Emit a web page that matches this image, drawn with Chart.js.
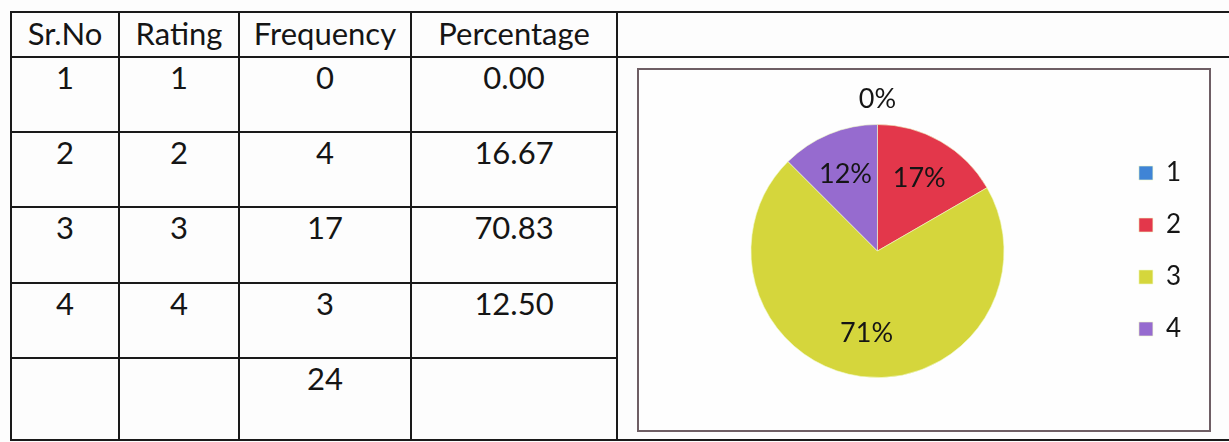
<!DOCTYPE html>
<html>
<head>
<meta charset="utf-8">
<script src="https://cdn.jsdelivr.net/npm/chart.js@4.4.1/dist/chart.umd.min.js"></script>
<style>
  html, body { margin: 0; padding: 0; background: #fdfdfd; width: 1229px; height: 442px; overflow: hidden; }
  body { position: relative; font-family: Lato, "Open Sans", sans-serif; color: #151515; }
  .hl, .vl { position: absolute; background: #1a1a1a; }
  .cell { position: absolute; text-align: center; font-size: 31px; line-height: 36px; white-space: nowrap; }
  #box { position: absolute; left: 637px; top: 68px; width: 570px; height: 360px; border: 2px solid #6e5e64; background: #fefefe; }
  #wrap { position: absolute; left: 600px; top: 69px; width: 608px; height: 361px; }
</style>
</head>
<body>
<div id="grid"></div>
<div id="box"></div>
<div id="wrap"><canvas id="c" width="608" height="361"></canvas></div>
<script>
const headers = ["Sr.No", "Rating", "Frequency", "Percentage"];
const srNo = ["1", "2", "3", "4"];
const ratings = ["1", "2", "3", "4"];
const frequencies = [0, 4, 17, 3];
const percentages = ["0.00", "16.67", "70.83", "12.50"];
const totalFrequency = "24";
const pieLabels = ["1", "2", "3", "4"];
const pieLabelTexts = ["0%", "17%", "71%", "12%"];
const pieColors = ["#3f84d6", "#e3374b", "#d5d63c", "#966bcf"];

// ---- table grid (layout) ----
const colX = [10, 118, 238, 410, 616];
const rowY = [11, 56, 131, 206, 282, 357, 439];
const grid = document.getElementById('grid');
function line(cls, l, t, w, h) { const d = document.createElement('div'); d.className = cls; Object.assign(d.style, { left: l + 'px', top: t + 'px', width: w + 'px', height: h + 'px' }); grid.appendChild(d); }
rowY.forEach((y, i) => {
  const full = (i === 0 || i === 1 || i === rowY.length - 1);
  line('hl', colX[0], y, (full ? 1229 : colX[4] + 2) - colX[0], 2);
});
colX.forEach(x => line('vl', x, rowY[0], 2, rowY[rowY.length - 1] - rowY[0] + 2));
function cell(text, c, r, isHead) {
  const d = document.createElement('div'); d.className = 'cell'; d.textContent = text;
  const top = isHead ? rowY[r] + 4 : rowY[r] + 3;
  Object.assign(d.style, { left: colX[c] + 2 + 'px', width: (colX[c + 1] - colX[c] - 2) + 'px', top: top + 'px' });
  grid.appendChild(d);
}
headers.forEach((h, c) => cell(h, c, 0, true));
for (let i = 0; i <= srNo.length; i++) {
  const vals = i < srNo.length ? [srNo[i], ratings[i], String(frequencies[i]), percentages[i]] : ['', '', totalFrequency, ''];
  vals.forEach((v, c) => { if (v) cell(v, c, i + 1, false); });
}

// ---- pie labels plugin ----
const pctLabels = {
  id: 'pctLabels',
  afterDatasetsDraw(chart) {
    const ctx = chart.ctx;
    const meta = chart.getDatasetMeta(0);
    const data = chart.data.datasets[0].data;
    ctx.save();
    ctx.font = '27px Lato, "Open Sans", sans-serif';
    ctx.fillStyle = '#151515';
    ctx.textAlign = 'center';
    ctx.textBaseline = 'middle';
    meta.data.forEach((arc, i) => {
      const p = arc.getProps(['x', 'y', 'startAngle', 'endAngle', 'outerRadius'], true);
      const mid = (p.startAngle + p.endAngle) / 2;
      const f = data[i] === 0 ? 1.2 : 0.66;
      const x = p.x + Math.cos(mid) * p.outerRadius * f;
      const y = p.y + Math.sin(mid) * p.outerRadius * f;
      ctx.fillText(pieLabelTexts[i], x, y);
    });
    ctx.restore();
  }
};

new Chart(document.getElementById('c'), {
  type: 'pie',
  data: {
    labels: pieLabels,
    datasets: [{ data: frequencies, backgroundColor: pieColors, borderColor: 'rgba(240,250,200,0.6)', borderWidth: 1 }]
  },
  options: {
    responsive: false,
    animation: false,
    layout: { padding: { left: 42, right: 17, top: 55, bottom: 52 } },
    plugins: {
      legend: {
        position: 'right',
        labels: { boxWidth: 14, boxHeight: 14, padding: 26, color: '#151515', font: { size: 26, family: 'Lato, "Open Sans", sans-serif' } }
      },
      tooltip: { enabled: false }
    }
  },
  plugins: [pctLabels]
});
</script>
</body>
</html>
